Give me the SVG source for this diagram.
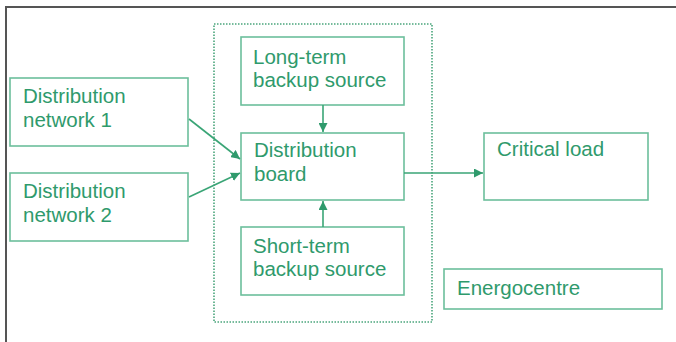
<svg xmlns="http://www.w3.org/2000/svg" width="676" height="342" viewBox="0 0 676 342">
<style>
.box{fill:#fff;stroke:#6cbf9c;stroke-width:1.6}
.t{font-family:"Liberation Sans",Arial,sans-serif;font-size:20.5px;fill:#2f9a6c}
.c{stroke:#3aa576;stroke-width:1.6;fill:none}
</style>
<defs>
<marker id="ah" viewBox="0 0 10 10" refX="10" refY="5" markerWidth="9" markerHeight="9" markerUnits="userSpaceOnUse" orient="auto">
<path d="M0,0 L10,5 L0,10 Z" fill="#2f9a6c"/>
</marker>
</defs>
<rect width="676" height="342" fill="#fff"/>
<path d="M6,342 V7 H676" fill="none" stroke="#555" stroke-width="2"/>
<g id="energocentre-frame">
<rect x="214" y="24" width="218" height="298" fill="none" stroke="#4aa57c" stroke-width="1.6" stroke-dasharray="1.5 1.5"/>
</g>
<g id="net1"><rect class="box" x="10" y="78" width="178" height="68"/><text class="t" x="23" y="103">Distribution</text><text class="t" x="23" y="127">network 1</text></g>
<g id="net2"><rect class="box" x="10" y="173" width="178" height="68"/><text class="t" x="23" y="198">Distribution</text><text class="t" x="23" y="222">network 2</text></g>
<g id="longterm"><rect class="box" x="241" y="37" width="163" height="68"/><text class="t" x="253" y="64">Long-term</text><text class="t" x="253" y="87">backup source</text></g>
<g id="board"><rect class="box" x="241" y="133" width="163" height="67"/><text class="t" x="254" y="157">Distribution</text><text class="t" x="254" y="181">board</text></g>
<g id="shortterm"><rect class="box" x="241" y="227" width="163" height="68"/><text class="t" x="253" y="253">Short-term</text><text class="t" x="253" y="276">backup source</text></g>
<g id="critical"><rect class="box" x="484" y="133" width="164" height="67"/><text class="t" x="497" y="156">Critical load</text></g>
<g id="energocentre"><rect class="box" x="444" y="269" width="218" height="40"/><text class="t" x="457" y="295">Energocentre</text></g>
<g id="connectors">
<line class="c" x1="189" y1="119" x2="240" y2="159" marker-end="url(#ah)"/>
<line class="c" x1="189" y1="197" x2="240" y2="173" marker-end="url(#ah)"/>
<line class="c" x1="323" y1="105" x2="323" y2="132" marker-end="url(#ah)"/>
<line class="c" x1="323" y1="227" x2="323" y2="201" marker-end="url(#ah)"/>
<line class="c" x1="404" y1="173" x2="483" y2="173" marker-end="url(#ah)"/>
</g>
</svg>
